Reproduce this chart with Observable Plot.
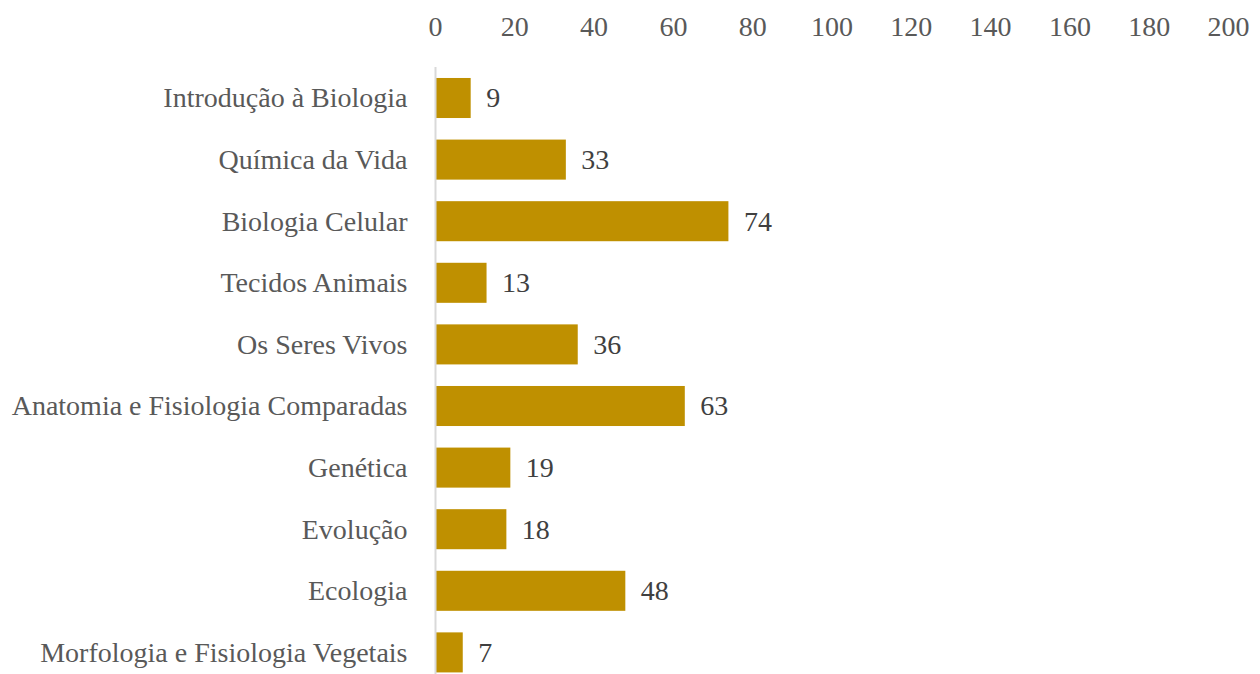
<!DOCTYPE html>
<html>
<head>
<meta charset="utf-8">
<script src="https://cdn.jsdelivr.net/npm/d3@7"></script>
<script src="https://cdn.jsdelivr.net/npm/@observablehq/plot@0.6"></script>
<style>
  html, body { margin: 0; padding: 0; background: #fff; }
  svg { display: block; }
</style>
</head>
<body>
<div id="chart"></div>
<script>
const categories = [
  "Introdução à Biologia",
  "Química da Vida",
  "Biologia Celular",
  "Tecidos Animais",
  "Os Seres Vivos",
  "Anatomia e Fisiologia Comparadas",
  "Genética",
  "Evolução",
  "Ecologia",
  "Morfologia e Fisiologia Vegetais"
];
const values = [9, 33, 74, 13, 36, 63, 19, 18, 48, 7];
const xTicks = [0, 20, 40, 60, 80, 100, 120, 140, 160, 180, 200];

const data = categories.map((c, i) => ({category: c, value: values[i]}));
const font = "'Liberation Serif', 'DejaVu Serif', serif";

const chart = Plot.plot({
  width: 1260,
  height: 674,
  marginLeft: 435,
  marginRight: 32,
  marginTop: 67,
  marginBottom: 0,
  style: {fontFamily: font, fontSize: "28px", background: "#fff", color: "#595959"},
  x: {domain: [0, 200], axis: null},
  y: {domain: categories, range: [67.2, 683.2], paddingInner: 0.35, paddingOuter: 0.175, round: false, axis: null},
  marks: [
    Plot.axisX({anchor: "top", ticks: xTicks, tickSize: 0, tickPadding: 32, fontSize: 28, fill: "#595959", label: null}),
    Plot.axisY({anchor: "left", tickSize: 0, tickPadding: 28, fontSize: 28, fill: "#595959", label: null}),
    Plot.barX(data, {x: "value", y: "category", fill: "#BF9000"}),
    Plot.ruleX([0], {stroke: "#d9d9d9", strokeWidth: 2}),
    Plot.text(data, {x: "value", y: "category", text: d => String(d.value), textAnchor: "start", dx: 15, fontSize: 28, fill: "#404040"})
  ]
});
document.getElementById("chart").appendChild(chart);
</script>
</body>
</html>
